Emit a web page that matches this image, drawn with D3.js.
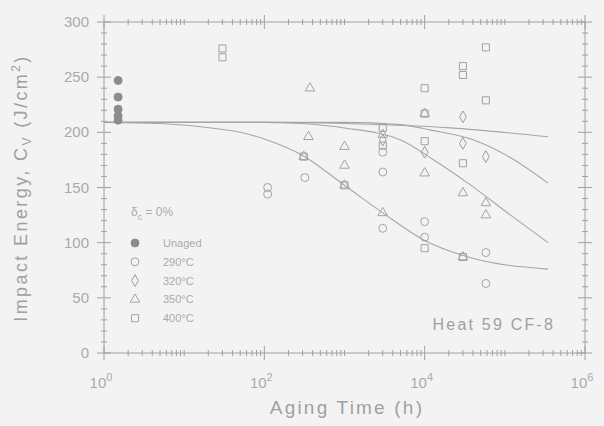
<!DOCTYPE html>
<html>
<head>
<meta charset="utf-8">
<script src="https://cdn.jsdelivr.net/npm/d3@7"></script>
<style>
  html, body { margin: 0; padding: 0; background: #f3f3f3; }
  svg { display: block; font-family: "Liberation Sans", Arial, sans-serif; }
</style>
</head>
<body>
<div id="chart"></div>
<script>
// aging time (h), impact energy (J/cm2)
const unaged  = [[1.5, 247], [1.5, 232], [1.5, 221], [1.5, 215], [1.5, 211]];
const t290    = [[110, 150], [110, 144], [320, 159], [3000, 164], [3000, 182], [3000, 113],
                 [10000, 119], [10000, 105], [58000, 91], [58000, 63]];
const t320    = [[3000, 193], [10000, 182], [30000, 214], [30000, 190], [58000, 178]];
const t350    = [[370, 240], [355, 196], [310, 178], [1000, 187], [1000, 170], [1000, 152],
                 [3000, 127], [3000, 198], [10000, 163], [10000, 217], [30000, 145],
                 [30000, 87], [58000, 136], [58000, 125]];
const t400    = [[30, 276], [30, 268], [310, 178], [1000, 152], [3000, 204], [3000, 188],
                 [10000, 240], [10000, 217], [10000, 192], [10000, 95], [30000, 260],
                 [30000, 252], [30000, 172], [30000, 87], [58000, 277], [58000, 229]];

// fitted curves, points
const curve290 = [[1, 209], [100, 209], [1000, 208], [21000, 204], [346000, 196]];
const curve320 = [[1, 209], [1000, 209], [5000, 207], [12000, 202], [41000, 193], [118000, 177], [346000, 154]];
const curve350 = [[1, 209], [100, 209], [280, 208], [1000, 204], [5000, 193], [13000, 175], [34600, 154], [118000, 125], [346000, 100]];
const curve400 = [[1, 209], [5, 208], [16, 205], [50, 200], [100, 194], [300, 179], [1000, 152], [3000, 127], [10000, 102], [35000, 87], [346000, 76]];

const legendLabels = ["Unaged", "290°C", "320°C", "350°C", "400°C"];
const yTicks = [0, 50, 100, 150, 200, 250, 300];
const xTicks = [1, 1e2, 1e4, 1e6];

const W = 604, H = 426;
const margin = {top: 22, right: 19, bottom: 73, left: 104};

const svg = d3.select("#chart").append("svg")
    .attr("width", W)
    .attr("height", H);

svg.append("rect").attr("width", W).attr("height", H).attr("fill", "#f3f3f3");

const x = d3.scaleLog()
    .domain([1, 1e6])
    .range([margin.left, W - margin.right]);

const y = d3.scaleLinear()
    .domain([0, 300])
    .range([H - margin.bottom, margin.top]);

const axisColor = "#a0a0a0";
const textColor = "#aaaaaa";

// minor ticks
const xMinor = [];
for (let d = 0; d < 6; d++) {
    for (let k = 2; k <= 10; k++) {
        const v = k * Math.pow(10, d);
        if (!xTicks.includes(v)) xMinor.push(v);
    }
}
const yMinor = d3.range(0, 301, 10).filter(v => v % 50 !== 0);

function drawAxes(g) {
    const b = y(0), t = y(300), l = x(1), r = x(1e6);
    g.append("path")
        .attr("d", `M${l},${t}H${r}V${b}H${l}Z`)
        .attr("fill", "none")
        .attr("stroke", axisColor)
        .attr("stroke-width", 1);

    // bottom and top, ticks crossing the frame
    [b, t].forEach(yy => {
        g.append("g").selectAll("line").data(xTicks).join("line")
            .attr("x1", d => x(d)).attr("x2", d => x(d))
            .attr("y1", yy - 7).attr("y2", yy + 7)
            .attr("stroke", axisColor);
        g.append("g").selectAll("line").data(xMinor).join("line")
            .attr("x1", d => x(d)).attr("x2", d => x(d))
            .attr("y1", yy - 3).attr("y2", yy + 3)
            .attr("stroke", axisColor);
    });
    // left and right
    [l, r].forEach(xx => {
        g.append("g").selectAll("line").data(yTicks).join("line")
            .attr("y1", d => y(d)).attr("y2", d => y(d))
            .attr("x1", xx - 7).attr("x2", xx + 7)
            .attr("stroke", axisColor);
        g.append("g").selectAll("line").data(yMinor).join("line")
            .attr("y1", d => y(d)).attr("y2", d => y(d))
            .attr("x1", xx - 3).attr("x2", xx + 3)
            .attr("stroke", axisColor);
    });

    // tick labels
    g.append("g").selectAll("text").data(yTicks).join("text")
        .attr("x", l - 15)
        .attr("y", d => y(d) + 5)
        .attr("text-anchor", "end")
        .attr("font-size", 15)
        .attr("fill", textColor)
        .text(d => d);

    const xl = g.append("g").selectAll("text").data(xTicks).join("text")
        .attr("x", d => x(d) - 3)
        .attr("y", b + 35)
        .attr("text-anchor", "middle")
        .attr("font-size", 15)
        .attr("fill", textColor);
    xl.append("tspan").text("10");
    xl.append("tspan").attr("dy", -7).attr("font-size", 11).text(d => Math.round(Math.log10(d)));
}

drawAxes(svg.append("g"));

// axis titles
svg.append("text")
    .attr("x", 347)
    .attr("y", 414)
    .attr("text-anchor", "middle")
    .attr("font-size", 19)
    .attr("letter-spacing", 2.2)
    .attr("fill", axisColor)
    .text("Aging Time (h)");

const yt = svg.append("text")
    .attr("transform", "translate(27,188) rotate(-90)")
    .attr("text-anchor", "middle")
    .attr("font-size", 18)
    .attr("letter-spacing", 2.4)
    .attr("fill", axisColor);
yt.append("tspan").text("Impact Energy, C");
yt.append("tspan").attr("dy", 4).attr("font-size", 12).text("V");
yt.append("tspan").attr("dy", -4).text(" (J/cm");
yt.append("tspan").attr("dy", -7).attr("font-size", 12).text("2");
yt.append("tspan").attr("dy", 7).text(")");

// curves
const line = d3.line()
    .x(d => x(d[0]))
    .y(d => y(d[1]))
    .curve(d3.curveMonotoneX);

svg.append("g").selectAll("path")
    .data([curve290, curve320, curve350, curve400])
    .join("path")
    .attr("d", line)
    .attr("fill", "none")
    .attr("stroke", "#a6a6a6")
    .attr("stroke-width", 1.1);

// markers
const mk = {
    circle: d3.symbol().type(d3.symbolCircle).size(50),
    square: d3.symbol().type(d3.symbolSquare).size(50),
    diamond: d3.symbol().type(d3.symbolDiamond).size(40),
    triangle: d3.symbol().type(d3.symbolTriangle).size(40)
};
const series = [
    {data: unaged, sym: mk.circle, fill: "#8c8c8c", stroke: "#8c8c8c"},
    {data: t290, sym: mk.circle, fill: "none", stroke: "#a4a4a4"},
    {data: t320, sym: mk.diamond, fill: "none", stroke: "#9c9c9c"},
    {data: t350, sym: mk.triangle, fill: "none", stroke: "#a4a4a4"},
    {data: t400, sym: mk.square, fill: "none", stroke: "#a0a0a0"}
];

series.forEach(s => {
    svg.append("g").selectAll("path")
        .data(s.data)
        .join("path")
        .attr("transform", d => `translate(${x(d[0])},${y(d[1])})`)
        .attr("d", s.sym())
        .attr("fill", s.fill)
        .attr("stroke", s.stroke)
        .attr("stroke-width", 1);
});

// legend
const lg = svg.append("g").attr("font-size", 11).attr("fill", textColor);
const hdr = lg.append("text").attr("x", 131).attr("y", 216).attr("font-size", 12);
hdr.append("tspan").text("δ");
hdr.append("tspan").attr("dy", 4).attr("font-size", 9).text("c");
hdr.append("tspan").attr("dy", -4).text(" = 0%");

const rows = lg.selectAll("g.row").data(series).join("g")
    .attr("class", "row")
    .attr("transform", (d, i) => `translate(135,${243 + i * 18.8})`);
rows.append("path")
    .attr("d", d => d.sym())
    .attr("fill", d => d.fill)
    .attr("stroke", d => d.stroke);
rows.append("text")
    .attr("x", 28)
    .attr("y", 4)
    .text((d, i) => legendLabels[i]);

svg.append("text")
    .attr("x", 555)
    .attr("y", 330)
    .attr("text-anchor", "end")
    .attr("font-size", 16)
    .attr("letter-spacing", 2.2)
    .attr("fill", axisColor)
    .text("Heat 59 CF-8");
</script>
</body>
</html>
